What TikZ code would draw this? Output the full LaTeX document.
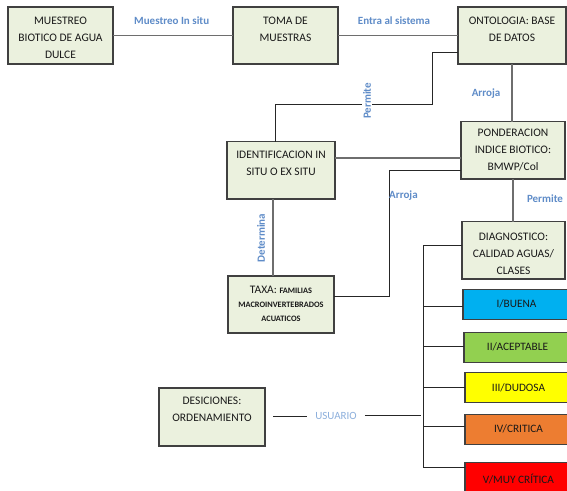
\documentclass[tikz,border=0pt]{standalone}
\usepackage{fontspec}
\setmainfont{Carlito}
\usetikzlibrary{calc}
\definecolor{boxfill}{HTML}{EBF1DE}
\definecolor{boxline}{HTML}{404040}
\definecolor{lblue}{RGB}{95,140,200}
\definecolor{ublue}{RGB}{140,175,220}
\definecolor{cblue}{HTML}{00B0F0}
\definecolor{cgreen}{HTML}{92D050}
\definecolor{cyellow}{HTML}{FFFF00}
\definecolor{corange}{HTML}{ED7D31}
\definecolor{cred}{HTML}{FF0000}
\definecolor{gline}{HTML}{6E6E6E}
\tikzset{
  gbox/.style={draw=boxline, fill=boxfill, line width=1.1pt, anchor=north west, inner sep=0pt, outer sep=0pt},
  btext/.style={anchor=north, align=center, inner sep=0pt, text=black!90, font=\fontsize{11.5}{16.7}\selectfont},
  cbox/.style={draw=boxline, line width=1.1pt, anchor=north west, inner sep=0pt, outer sep=0pt, minimum width=107pt, minimum height=30pt, text=black!90, font=\fontsize{11.3}{13}\selectfont},
  lbl/.style={inner sep=1pt, text=lblue, font=\fontsize{11}{13}\selectfont\bfseries},
  gcon/.style={draw=gline, line width=1.7pt},
  kcon/.style={draw=black!85, line width=0.9pt}
}
\begin{document}
\begin{tikzpicture}[x=1pt,y=-1pt]
\clip (0,0) rectangle (567,490);
\fill[white] (0,0) rectangle (567,490);

% main boxes
\node[gbox, minimum width=105pt, minimum height=57pt] (mue) at (8,7) {};
\node[btext] (muet) at (60.5,17) {MUESTREO\\BIOTICO DE AGUA\\DULCE};
\node[gbox, minimum width=105pt, minimum height=57pt] (tom) at (233,7) {};
\node[btext] (tomt) at (285.5,17) {TOMA DE\\MUESTRAS};
\node[gbox, minimum width=108pt, minimum height=57pt] (ont) at (458,7) {};
\node[btext] (ontt) at (512,17) {ONTOLOGIA: BASE\\DE DATOS};
\node[gbox, minimum width=104pt, minimum height=57.5pt] (pon) at (461,121.5) {};
\node[btext] (pont) at (513,129.3) {PONDERACION\\INDICE BIOTICO:\\BMWP/Col};
\node[gbox, minimum width=108pt, minimum height=57.5pt] (ide) at (227,141.5) {};
\node[btext] (idet) at (281,151.3) {IDENTIFICACION IN\\SITU O EX SITU};
\node[gbox, minimum width=103pt, minimum height=57.5pt] (dia) at (462,221.5) {};
\node[btext] (diat) at (513.5,233) {DIAGNOSTICO:\\CALIDAD AGUAS/\\CLASES};
\node[gbox, minimum width=106pt, minimum height=57pt] (tax) at (228,276) {};
\node[btext, font=\fontsize{11.5}{14}\selectfont] (taxt) at (281,285.6) {TAXA: {\fontsize{8.3}{10}\selectfont\bfseries FAMILIAS}\\{\fontsize{8.3}{10}\selectfont\bfseries MACROINVERTEBRADOS}\\{\fontsize{8.3}{10}\selectfont\bfseries ACUATICOS}};
\node[gbox, minimum width=106pt, minimum height=58pt] (des) at (159,388) {};
\node[btext] (dest) at (212,397) {DESICIONES:\\ORDENAMIENTO};

% coloured classes
\node[cbox, fill=cblue] (c1) at (463,289.3) {I/BUENA};
\node[cbox, fill=cgreen] (c2) at (464,332.3) {II/ACEPTABLE};
\node[cbox, fill=cyellow] (c3) at (465,372.7) {III/DUDOSA};
\node[cbox, fill=corange] (c4) at (465,414.3) {IV/CRITICA};
\node[cbox, fill=cred, minimum height=35pt] (c5) at (465,462.3) {\raisebox{3pt}{V/MUY CRÍTICA}};

% connectors top row
\draw[gcon] (mue.east) -- (tom.west);
\draw[gcon] (tom.east) -- (ont.west);
\node[lbl] (l1) at (171.7,20.7) {Muestreo In situ};
\node[lbl] (l2) at (394,20.7) {Entra al sistema};

% Permite (top)
\coordinate (p1) at ($(ont.north west)+(0,45.3)$);
\coordinate (p2) at (432,104.3);
\coordinate (p3) at ($(ide.north west)+(48.5,0)$);
\draw[kcon] (p1) -| (p2) -| (p3);
\node[lbl, rotate=90, fill=white] (l3) at (367,101) {Permite};

% ontologia -> ponderacion
\draw[gcon] (ont.south) -- (ont.south |- pon.north);
\node[lbl] (l4) at (486,94) {Arroja};

% identificacion -> ponderacion
\coordinate (ip) at ($(ide.north east)+(0,16.8)$);
\draw[gcon] (ip) -- (pon.west |- ip);

% ponderacion -> taxa (Arroja)
\coordinate (a1) at ($(pon.north west)+(0,49.2)$);
\coordinate (a2) at (389,296.7);
\draw[kcon] (a1) -| (a2) -- (tax.east |- a2);
\node[lbl, anchor=west, inner sep=0pt] (l5) at (389,196) {Arroja};

% identificacion -> taxa (Determina)
\coordinate (d1) at ($(ide.south west)+(45.7,0)$);
\draw[gcon] (d1) -- (d1 |- tax.north);
\node[lbl, rotate=90] (l6) at (261,238) {Determina};

% ponderacion -> diagnostico
\draw[gcon] (pon.south) -- (pon.south |- dia.north);
\node[lbl] (l7) at (545,199) {Permite};

% tree
\coordinate (t0) at ($(dia.north west)+(0,24.2)$);
\coordinate (tt) at (423.3,245.7);
\coordinate (tb) at (423.3,467.3);
\coordinate (b1) at (423.3,306);
\coordinate (b2) at (423.3,346.7);
\coordinate (b3) at (423.3,387.3);
\coordinate (b4) at (423.3,426.7);
\draw[kcon] (t0) -- (tt) -- (tb) -- (c5.west |- tb);
\draw[kcon] (b1) -- (c1.west |- b1);
\draw[kcon] (b2) -- (c2.west |- b2);
\draw[kcon] (b3) -- (c3.west |- b3);
\draw[kcon] (b4) -- (c4.west |- b4);

% usuario
\node[inner sep=8pt, text=ublue, font=\fontsize{11}{13}\selectfont] (usu) at (336,416) {USUARIO};
\coordinate (u1) at (273.3,416.7);
\coordinate (u2) at (421,415);
\draw[kcon] (u1) -- (usu.west |- u1);
\draw[kcon] (usu.east |- u2) -- (u2);
\end{tikzpicture}
\end{document}
